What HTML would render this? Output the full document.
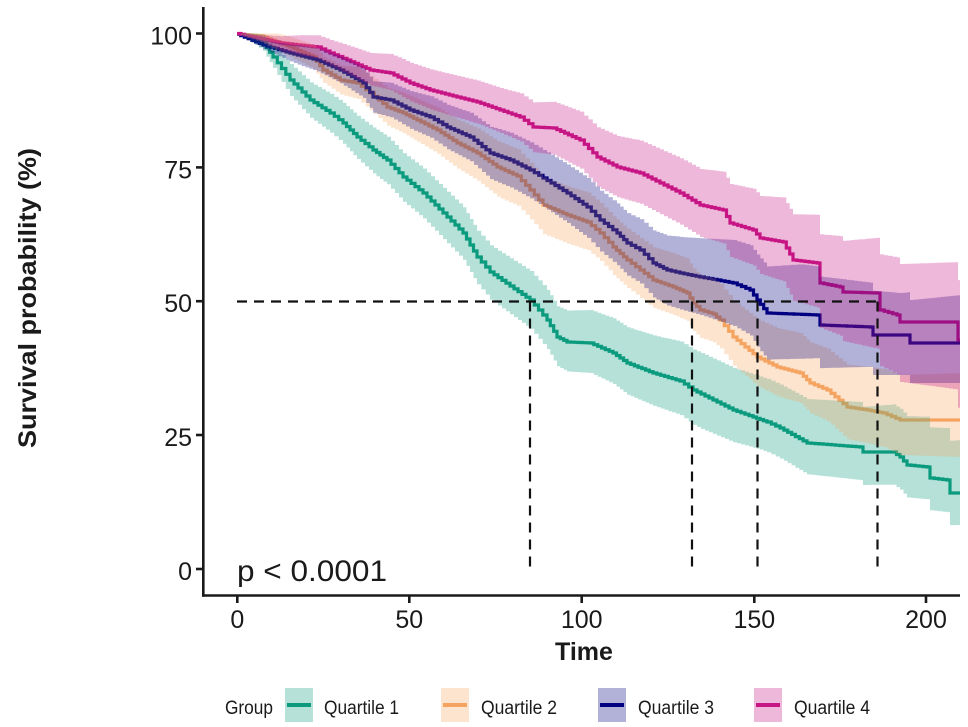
<!DOCTYPE html>
<html>
<head>
<meta charset="utf-8">
<style>
  html, body { margin: 0; padding: 0; background: #ffffff; }
  body { width: 968px; height: 727px; overflow: hidden; }
  svg { display: block; }
  text { font-family: "Liberation Sans", Arial, sans-serif; fill: #1a1a1a; }
</style>
</head>
<body>
<svg id="chart" width="968" height="727" viewBox="0 0 968 727" xmlns="http://www.w3.org/2000/svg">
  <rect x="0" y="0" width="968" height="727" fill="#ffffff"/>
  <g id="lines"></g>
  <g id="bands"></g>

  <!-- median dashed lines -->
  <g stroke="#111" stroke-width="2.2" stroke-dasharray="10,7" fill="none">
    <line x1="237" y1="301.5" x2="878" y2="301.5"/>
    <line x1="530" y1="301.5" x2="530" y2="569"/>
    <line x1="692" y1="301.5" x2="692" y2="569"/>
    <line x1="757.5" y1="301.5" x2="757.5" y2="569"/>
    <line x1="877.5" y1="301.5" x2="877.5" y2="569"/>
  </g>

  <!-- axes -->
  <g stroke="#1a1a1a" stroke-width="2.6" fill="none">
    <line x1="203.3" y1="7" x2="203.3" y2="596.8"/>
    <line x1="202" y1="595.5" x2="960" y2="595.5"/>
    <!-- y ticks -->
    <line x1="196" y1="33.5" x2="203" y2="33.5"/>
    <line x1="196" y1="167.4" x2="203" y2="167.4"/>
    <line x1="196" y1="301.2" x2="203" y2="301.2"/>
    <line x1="196" y1="435" x2="203" y2="435"/>
    <line x1="196" y1="569" x2="203" y2="569"/>
    <!-- x ticks -->
    <line x1="237.3" y1="596" x2="237.3" y2="603"/>
    <line x1="409.3" y1="596" x2="409.3" y2="603"/>
    <line x1="581.7" y1="596" x2="581.7" y2="603"/>
    <line x1="754.3" y1="596" x2="754.3" y2="603"/>
    <line x1="926" y1="596" x2="926" y2="603"/>
  </g>

  <!-- y tick labels -->
  <g font-size="25" text-anchor="end">
    <text x="192" y="44.5">100</text>
    <text x="192" y="178.4">75</text>
    <text x="192" y="312.2">50</text>
    <text x="192" y="446">25</text>
    <text x="192" y="580">0</text>
  </g>
  <!-- x tick labels -->
  <g font-size="25" text-anchor="middle">
    <text x="237.3" y="628">0</text>
    <text x="409.3" y="628">50</text>
    <text x="581.7" y="628">100</text>
    <text x="754.3" y="628">150</text>
    <text x="926" y="628">200</text>
  </g>

  <!-- axis titles -->
  <text x="584" y="660" font-size="25" font-weight="bold" text-anchor="middle">Time</text>
  <text transform="translate(36,298) rotate(-90)" font-size="25" font-weight="bold" text-anchor="middle" textLength="300" lengthAdjust="spacingAndGlyphs">Survival probability (%)</text>

  <!-- p value -->
  <text x="237" y="581" font-size="30" textLength="150" lengthAdjust="spacingAndGlyphs">p &lt; 0.0001</text>

  <!-- legend -->
  <g font-size="19">
    <text x="225" y="714" textLength="48" lengthAdjust="spacingAndGlyphs">Group</text>

    <rect x="285" y="688" width="28" height="34" fill="#0b9a7d" fill-opacity="0.3"/>
    <line x1="287" y1="705" x2="311" y2="705" stroke="#0b9a7d" stroke-width="4"/>
    <text x="324" y="714" textLength="75" lengthAdjust="spacingAndGlyphs">Quartile 1</text>

    <rect x="441" y="688" width="28" height="34" fill="#F4A460" fill-opacity="0.3"/>
    <line x1="443" y1="705" x2="467" y2="705" stroke="#F4A460" stroke-width="4"/>
    <text x="481" y="714" textLength="76" lengthAdjust="spacingAndGlyphs">Quartile 2</text>

    <rect x="598" y="688" width="28" height="34" fill="#000080" fill-opacity="0.3"/>
    <line x1="600" y1="705" x2="624" y2="705" stroke="#000080" stroke-width="4"/>
    <text x="638" y="714" textLength="76" lengthAdjust="spacingAndGlyphs">Quartile 3</text>

    <rect x="754" y="688" width="28" height="34" fill="#C71585" fill-opacity="0.3"/>
    <line x1="756" y1="705" x2="780" y2="705" stroke="#C71585" stroke-width="4"/>
    <text x="794" y="714" textLength="76" lengthAdjust="spacingAndGlyphs">Quartile 4</text>
  </g>
</svg>

<script>
(function(){
  var NS = "http://www.w3.org/2000/svg";
  var series = [
    { color: "#0b9a7d",
      pts: [[237,34],[250,37],[263,43],[273,57],[290,80],[310,100],[330,113],[343,123],[357,137],[373,150],[387,160],[403,177],[423,193],[443,213],[463,233],[477,257],[490,272],[510,286],[530,300],[547,320],[557,337],[567,342],[590,343],[613,353],[627,363],[653,373],[680,381],[693,390],[713,400],[733,410],[753,417],[767,422],[780,428],[807,443],[860,447],[863,452],[893,452],[900,457],[907,465],[927,467],[930,478],[947,480],[950,493],[960,493]],
      up: [[237,0],[250,4],[290,16],[380,23],[500,27],[590,33],[700,41],[760,43],[860,45],[960,53]],
      lo: [[237,0],[250,4],[290,16],[380,24],[500,28],[590,30],[700,35],[760,30],[860,33],[960,32]] },
    { color: "#F4A460",
      pts: [[237,34],[260,36],[290,47],[313,57],[323,70],[340,80],[357,83],[370,93],[387,107],[403,113],[417,120],[437,130],[457,143],[477,153],[497,167],[517,176],[530,190],[543,205],[567,215],[587,222],[600,233],[613,247],[627,260],[640,270],[653,280],[673,287],[687,293],[693,303],[700,310],[713,314],[720,320],[733,337],[757,357],[777,367],[800,373],[810,383],[827,390],[847,407],[867,410],[883,413],[900,420],[960,420]],
      up: [[237,0],[270,8],[400,20],[500,26],[600,30],[700,35],[800,40],[900,45],[960,47]],
      lo: [[237,0],[270,8],[400,20],[500,30],[600,28],[700,28],[800,30],[900,35],[960,37]] },
    { color: "#000080",
      pts: [[237,34],[263,45],[290,53],[317,60],[340,70],[363,83],[373,97],[390,100],[410,110],[430,117],[447,127],[470,137],[490,153],[510,160],[530,170],[543,178],[567,193],[587,207],[600,220],[617,233],[627,243],[640,250],[653,263],[667,270],[680,273],[700,277],[717,280],[733,283],[750,290],[757,300],[767,313],[817,315],[820,325],[870,327],[873,335],[907,335],[910,343],[960,343]],
      up: [[237,0],[300,10],[400,18],[500,27],[633,30],[733,43],[800,50],[900,42],[960,48]],
      lo: [[237,0],[300,10],[400,18],[500,27],[633,33],[700,38],[760,47],[867,40],[960,40]] },
    { color: "#C71585",
      pts: [[237,33.5],[280,43],[317,47],[330,53],[347,60],[370,70],[390,73],[410,83],[430,90],[457,97],[477,102],[500,110],[520,117],[533,127],[553,128],[580,140],[597,157],[617,167],[640,173],[660,183],[680,193],[700,205],[723,210],[730,223],[753,230],[760,238],[783,242],[793,260],[817,263],[820,283],[840,287],[843,292],[877,293],[880,310],[897,315],[900,322],[957,322],[958,340],[960,340]],
      up: [[237,0],[300,10],[400,20],[500,22],[600,30],[700,36],[760,42],[850,52],[900,58],[960,60]],
      lo: [[237,0],[300,10],[400,18],[500,23],[600,30],[700,32],[760,36],[820,45],[900,60],[960,68]] }
  ];

  function interp(tbl, x){
    if (x <= tbl[0][0]) return tbl[0][1];
    for (var i=1;i<tbl.length;i++){
      if (x <= tbl[i][0]){
        var a=tbl[i-1], b=tbl[i];
        var t=(x-a[0])/(b[0]-a[0]);
        return a[1]+t*(b[1]-a[1]);
      }
    }
    return tbl[tbl.length-1][1];
  }

  function samples(anchors){
    var out=[[anchors[0][0],anchors[0][1]]];
    for (var i=1;i<anchors.length;i++){
      var a=anchors[i-1], b=anchors[i];
      var dx=b[0]-a[0];
      var n=Math.max(1, Math.round(dx/4));
      for (var k=1;k<=n;k++){
        var x=a[0]+dx*k/n;
        var y=a[1]+(b[1]-a[1])*k/n;
        out.push([Math.round(x*10)/10, Math.round(y*10)/10]);
      }
    }
    return out;
  }

  var gl=document.getElementById("lines");
  var gb=document.getElementById("bands");

  series.forEach(function(s){
    var p=samples(s.pts);
    // line
    var d="M"+p[0][0]+" "+p[0][1];
    for (var i=1;i<p.length;i++) d+=" H"+p[i][0]+" V"+p[i][1];
    var path=document.createElementNS(NS,"path");
    path.setAttribute("d",d);
    path.setAttribute("fill","none");
    path.setAttribute("stroke",s.color);
    path.setAttribute("stroke-width","3.2");
    path.setAttribute("stroke-linejoin","miter");
    gl.appendChild(path);

    // band
    var yu=[], yl=[];
    for (var j=0;j<p.length;j++){
      var u=p[j][1]-interp(s.up,p[j][0]);
      var l=p[j][1]+interp(s.lo,p[j][0]);
      yu.push(Math.max(33.5,u).toFixed(1));
      yl.push(Math.min(569,l).toFixed(1));
    }
    var bd="M"+p[0][0]+" "+yu[0];
    for (var j=1;j<p.length;j++) bd+=" H"+p[j][0]+" V"+yu[j];
    bd+=" V"+yl[p.length-1];
    for (var j=p.length-1;j>=1;j--) bd+=" V"+yl[j-1]+" H"+p[j-1][0];
    bd+=" Z";
    var bp=document.createElementNS(NS,"path");
    bp.setAttribute("d",bd);
    bp.setAttribute("fill",s.color);
    bp.setAttribute("fill-opacity","0.3");
    bp.setAttribute("stroke","none");
    gb.appendChild(bp);
  });
})();
</script>
</body>
</html>
